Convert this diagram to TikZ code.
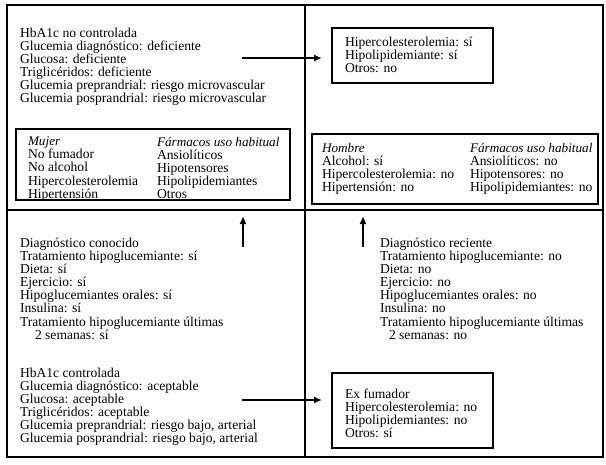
\documentclass[tikz,border=0pt]{standalone}
\usepackage{fontspec}
\setmainfont{Liberation Serif}
\usetikzlibrary{arrows.meta}
\newcommand{\hd}[1]{{\fontsize{13.2}{13}\selectfont\itshape #1}}
\begin{document}
\begin{tikzpicture}[x=1pt,y=-1pt,
  frame/.style={line width=1.6pt},
  txt/.style={anchor=north west, inner sep=0pt, outer sep=0pt, align=left, font=\fontsize{13.6}{13.1}\selectfont},
  boxrect/.style={draw, line width=1.6pt, inner sep=0pt, outer sep=0pt},
  arr/.style={line width=1.6pt, -{Latex[length=8pt,width=7pt]}}
]
\useasboundingbox (0,0) rectangle (606,464);
% frame and dividers
\draw[frame] (7,5) rectangle (603,457);
\draw[frame] (305,5) -- (305,457);
\draw[frame] (7,210) -- (603,210);

% boxes
\node[boxrect, minimum width=161pt, minimum height=55pt] (b1) at (412.5,55.5) {};
\node[boxrect, minimum width=274pt, minimum height=71pt] (bm) at (153,164.5) {};
\node[boxrect, minimum width=286pt, minimum height=70pt] (bh) at (455,169) {};
\node[boxrect, minimum width=161pt, minimum height=75pt] (b4) at (412.5,410.5) {};

% texts
\node[txt] (t1) at (20,28) {HbA1c no controlada\\Glucemia diagnóstico: deficiente\\Glucosa: deficiente\\Triglicéridos: deficiente\\Glucemia preprandrial: riesgo microvascular\\Glucemia posprandrial: riesgo microvascular};
\node[txt] (t2) at (345,37) {Hipercolesterolemia: sí\\Hipolipidemiante: sí\\Otros: no};
\node[txt] (m1) at (28,137) {\hd{Mujer}\\No fumador\\No alcohol\\Hipercolesterolemia\\Hipertensión};
\node[txt] (m2) at (157,137) {\hd{Fármacos uso habitual}\\Ansiolíticos\\Hipotensores\\Hipolipidemiantes\\Otros};
\node[txt] (h1) at (322,143) {\hd{Hombre}\\Alcohol: sí\\Hipercolesterolemia: no\\Hipertensión: no};
\node[txt] (h2) at (470,143) {\hd{Fármacos uso habitual}\\Ansiolíticos: no\\Hipotensores: no\\Hipolipidemiantes: no};
\node[txt] (t3) at (20,238) {Diagnóstico conocido\\Tratamiento hipoglucemiante: sí\\Dieta: sí\\Ejercicio: sí\\Hipoglucemiantes orales: sí\\Insulina: sí\\Tratamiento hipoglucemiante últimas\\\hspace*{15pt}2 semanas: sí};
\node[txt] (t4) at (380,238) {Diagnóstico reciente\\Tratamiento hipoglucemiante: no\\Dieta: no\\Ejercicio: no\\Hipoglucemiantes orales: no\\Insulina: no\\Tratamiento hipoglucemiante últimas\\\hspace*{9pt}2 semanas: no};
\node[txt] (t5) at (20,368) {HbA1c controlada\\Glucemia diagnóstico: aceptable\\Glucosa: aceptable\\Triglicéridos: aceptable\\Glucemia preprandrial: riesgo bajo, arterial\\Glucemia posprandrial: riesgo bajo, arterial};
\node[txt] (t6) at (345,389) {Ex fumador\\Hipercolesterolemia: no\\Hipolipidemiantes: no\\Otros: sí};

% arrows
\coordinate (a1s) at (242,58);
\coordinate (a1e) at (322,58);
\coordinate (a2s) at (242,400);
\coordinate (a2e) at (322,400);
\coordinate (u1s) at (243,247);
\coordinate (u1e) at (243,216);
\coordinate (u2s) at (363,247);
\coordinate (u2e) at (363,216);
\draw[arr] (a1s) -- (a1e);
\draw[arr] (a2s) -- (a2e);
\draw[arr] (u1s) -- (u1e);
\draw[arr] (u2s) -- (u2e);
\end{tikzpicture}
\end{document}
